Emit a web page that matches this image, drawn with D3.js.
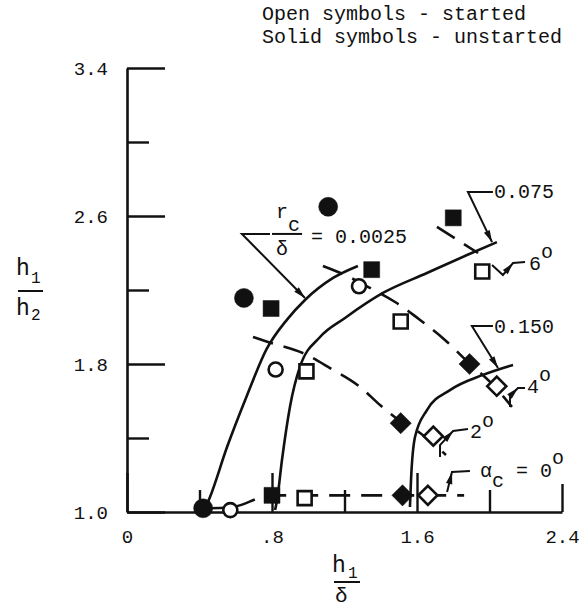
<!DOCTYPE html>
<html>
<head>
<meta charset="utf-8">
<script src="https://cdn.jsdelivr.net/npm/d3@7"></script>
<style>
  body { margin: 0; background: #fff; }
  svg text { font-family: "Liberation Mono", "DejaVu Sans Mono", monospace; fill: #111; }
</style>
</head>
<body>
<div class="chart"></div>
<script>
'use strict';

var width = 585, height = 608;
var ink = "#111";

// axis ticks
var xTicks = [0, 0.4, 0.8, 1.2, 1.6, 2.0, 2.4];
var xTickLabels = ["0", "", ".8", "", "1.6", "", "2.4"];
var yTicks = [1.0, 1.4, 1.8, 2.2, 2.6, 3.0, 3.4];
var yTickLabels = ["1.0", "", "1.8", "", "2.6", "", "3.4"];

// test points  [h1/delta, h1/h2]
var solidCircles  = [[0.42, 1.02], [0.645, 2.157], [1.11, 2.65]];
var openCircles   = [[0.57, 1.01], [0.82, 1.77], [1.28, 2.22]];
var solidSquares  = [[0.80, 1.09], [0.795, 2.10], [1.35, 2.31], [1.80, 2.59]];
var openSquares   = [[0.98, 1.075], [0.99, 1.76], [1.51, 2.03], [1.96, 2.30]];
var solidDiamonds = [[1.52, 1.09], [1.51, 1.48], [1.89, 1.80]];
var openDiamonds  = [[1.66, 1.09], [1.69, 1.41], [2.04, 1.68]];

// faired curves, r_c/delta
var curve0025 = [[0.425, 1.005], [0.458, 1.081], [0.552, 1.351], [0.662, 1.630], [0.770, 1.880],
                 [0.883, 2.040], [0.982, 2.146], [1.137, 2.265], [1.274, 2.330]];
var curve075  = [[0.817, 1.011], [0.828, 1.065], [0.855, 1.281], [0.899, 1.568], [0.954, 1.784],
                 [1.065, 1.946], [1.203, 2.049], [1.412, 2.184], [1.655, 2.292], [1.876, 2.389], [2.041, 2.459]];
var curve150  = [[1.561, 1.027], [1.567, 1.173], [1.589, 1.405], [1.655, 1.551], [1.782, 1.659],
                 [1.964, 1.741], [2.130, 1.795]];

// constant cowl angle lines (dashed)
var alpha0 = [[0.42, 1.02], [0.57, 1.025], [0.80, 1.09], [1.0, 1.09], [1.86, 1.09]];
var alpha2 = [[0.695, 1.946], [0.778, 1.919], [0.982, 1.854], [1.120, 1.778], [1.286, 1.676],
              [1.396, 1.578], [1.506, 1.492], [1.617, 1.427], [1.760, 1.308]];
var alpha4 = [[1.081, 2.330], [1.203, 2.281], [1.341, 2.211], [1.479, 2.135], [1.617, 2.038],
              [1.754, 1.930], [1.881, 1.811], [2.003, 1.703], [2.124, 1.568]];
var alpha6 = [[1.710, 2.541], [1.937, 2.400]];

// leader lines, arrow tip at index `tip`
var leaders = [
  { pts: [[0.789, 2.503], [0.634, 2.503], [0.982, 2.157]], tip: 2 },
  { pts: [[2.019, 2.730], [1.881, 2.730], [2.014, 2.459]], tip: 2 },
  { pts: [[2.019, 2.005], [1.903, 2.005], [2.047, 1.778]], tip: 2 },
  { pts: [[2.014, 2.335], [2.074, 2.281], [2.130, 2.346], [2.196, 2.351]], tip: 2 },
  { pts: [[2.113, 1.568], [2.113, 1.627], [2.157, 1.670], [2.196, 1.670]], tip: 2 },
  { pts: [[1.727, 1.297], [1.727, 1.362], [1.799, 1.438], [1.881, 1.449]], tip: 2 },
  { pts: [[1.766, 1.108], [1.793, 1.216], [1.892, 1.222]], tip: 1 }
];

// curve labels: [text, baseline shift]
var labels = [
  { at: [2.025, 2.697], parts: [["0.075", 0]] },
  { at: [2.025, 1.968], parts: [["0.150", 0]] },
  { at: [2.218, 2.308], parts: [["6", 0], ["o", -12]] },
  { at: [2.207, 1.643], parts: [["4", 0], ["o", -12]] },
  { at: [1.892, 1.400], parts: [["2", 0], ["o", -11]] },
  { at: [1.948, 1.189], parts: [["α", 0], ["c", 10], [" = 0", -10], ["o", -13]] },
  { at: [0.822, 2.589], parts: [["r", 0], ["c", 13]] },
  { at: [0.822, 2.389], parts: [["δ", 0]] },
  { at: [1.015, 2.454], parts: [["= 0.0025", 0]] }
];
var fractionBar = [[0.800, 2.503], [0.966, 2.503]];

var x = d3.scaleLinear().domain([0, 2.4]).range([127, 562]);
var y = d3.scaleLinear().domain([1.0, 3.4]).range([512, 68]);

var svg = d3.select(".chart").append("svg")
    .attr("width", width)
    .attr("height", height);

svg.append("rect").attr("width", width).attr("height", height).attr("fill", "#fff");

// legend note
svg.append("text").attr("x", 262).attr("y", 20).attr("font-size", 20).text("Open symbols - started");
svg.append("text").attr("x", 262).attr("y", 43).attr("font-size", 20).text("Solid symbols - unstarted");

// axes: ticks point inward, majors longer
var xAxis = d3.axisBottom(x).tickValues(xTicks).tickSizeOuter(0).tickPadding(12)
    .tickFormat((d, i) => xTickLabels[i]);
var yAxis = d3.axisLeft(y).tickValues(yTicks).tickSizeOuter(0).tickPadding(13)
    .tickFormat((d, i) => yTickLabels[i]);

var gx = svg.append("g").attr("transform", "translate(0," + y(1.0) + ")").call(xAxis);
var gy = svg.append("g").attr("transform", "translate(" + x(0) + ",0)").call(yAxis);

gx.selectAll(".tick line").attr("y2", (d, i) => i == 6 ? -28 : (i % 2 ? -22 : -39));
gy.selectAll(".tick line").attr("x2", (d, i) => i % 2 ? 22 : 38);
[gx, gy].forEach(g => {
  g.select(".domain").attr("stroke", ink).attr("stroke-width", 2.6);
  g.selectAll(".tick line").attr("stroke", ink).attr("stroke-width", 2.4);
  g.selectAll(".tick text").attr("font-size", 19).attr("font-family", "Liberation Mono").attr("fill", ink);
});

// axis titles
var yt = svg.append("g");
yt.append("text").attr("x", 16).attr("y", 275).attr("font-size", 23).text("h");
yt.append("text").attr("x", 31).attr("y", 283).attr("font-size", 16).text("1");
yt.append("line").attr("x1", 18).attr("x2", 43).attr("y1", 291).attr("y2", 291).attr("stroke", ink).attr("stroke-width", 2);
yt.append("text").attr("x", 16).attr("y", 315).attr("font-size", 23).text("h");
yt.append("text").attr("x", 31).attr("y", 320).attr("font-size", 16).text("2");

var xt = svg.append("g");
xt.append("text").attr("x", 332).attr("y", 572).attr("font-size", 23).text("h");
xt.append("text").attr("x", 348).attr("y", 578).attr("font-size", 16).text("1");
xt.append("line").attr("x1", 334).attr("x2", 360).attr("y1", 582).attr("y2", 582).attr("stroke", ink).attr("stroke-width", 2);
xt.append("text").attr("x", 335).attr("y", 602).attr("font-size", 21).text("δ");

// curves
var line = d3.line().x(d => x(d[0])).y(d => y(d[1])).curve(d3.curveMonotoneX);

[curve0025, curve075, curve150].forEach(c => {
  svg.append("path").attr("d", line(c)).attr("fill", "none")
     .attr("stroke", ink).attr("stroke-width", 2.6);
});

[alpha0, alpha2, alpha4, alpha6].forEach(c => {
  svg.append("path").attr("d", line(c)).attr("fill", "none")
     .attr("stroke", ink).attr("stroke-width", 2.6)
     .attr("stroke-dasharray", "21,11");
});

// leaders with arrowheads
var straight = d3.line().x(d => x(d[0])).y(d => y(d[1]));
leaders.forEach(l => {
  svg.append("path").attr("d", straight(l.pts)).attr("fill", "none")
     .attr("stroke", ink).attr("stroke-width", 2);
  var tx = x(l.pts[l.tip][0]), ty = y(l.pts[l.tip][1]);
  var fx = x(l.pts[l.tip - 1][0]), fy = y(l.pts[l.tip - 1][1]);
  var a = Math.atan2(ty - fy, tx - fx), len = 12, w = 3.2;
  var bx = tx - len * Math.cos(a), by = ty - len * Math.sin(a);
  var px = -Math.sin(a) * w, py = Math.cos(a) * w;
  svg.append("path")
     .attr("d", "M" + tx + "," + ty + "L" + (bx + px) + "," + (by + py) + "L" + (bx - px) + "," + (by - py) + "Z")
     .attr("fill", ink);
});

svg.append("path").attr("d", straight(fractionBar)).attr("stroke", ink).attr("stroke-width", 2);

labels.forEach(lb => {
  var t = svg.append("text").attr("x", x(lb.at[0])).attr("y", y(lb.at[1])).attr("font-size", 20);
  lb.parts.forEach(p => t.append("tspan").attr("dy", p[1]).text(p[0]));
});

// symbols
function drawSymbols(data, type, size, filled, rotate) {
  var sym = d3.symbol().type(type).size(size);
  svg.selectAll(null).data(data).enter().append("path")
     .attr("d", sym)
     .attr("transform", d => "translate(" + x(d[0]) + "," + y(d[1]) + ")" + (rotate ? " rotate(45)" : ""))
     .attr("fill", filled ? ink : "#fff")
     .attr("stroke", ink)
     .attr("stroke-width", filled ? 0.5 : 2.6);
}

drawSymbols(solidCircles, d3.symbolCircle, Math.PI * 9.5 * 9.5, true, false);
drawSymbols(openCircles, d3.symbolCircle, Math.PI * 7 * 7, false, false);
drawSymbols(solidSquares, d3.symbolSquare, 16 * 16, true, false);
drawSymbols(openSquares, d3.symbolSquare, 14 * 14, false, false);
drawSymbols(solidDiamonds, d3.symbolSquare, 15 * 15, true, true);
drawSymbols(openDiamonds, d3.symbolSquare, 13.5 * 13.5, false, true);
</script>
</body>
</html>
